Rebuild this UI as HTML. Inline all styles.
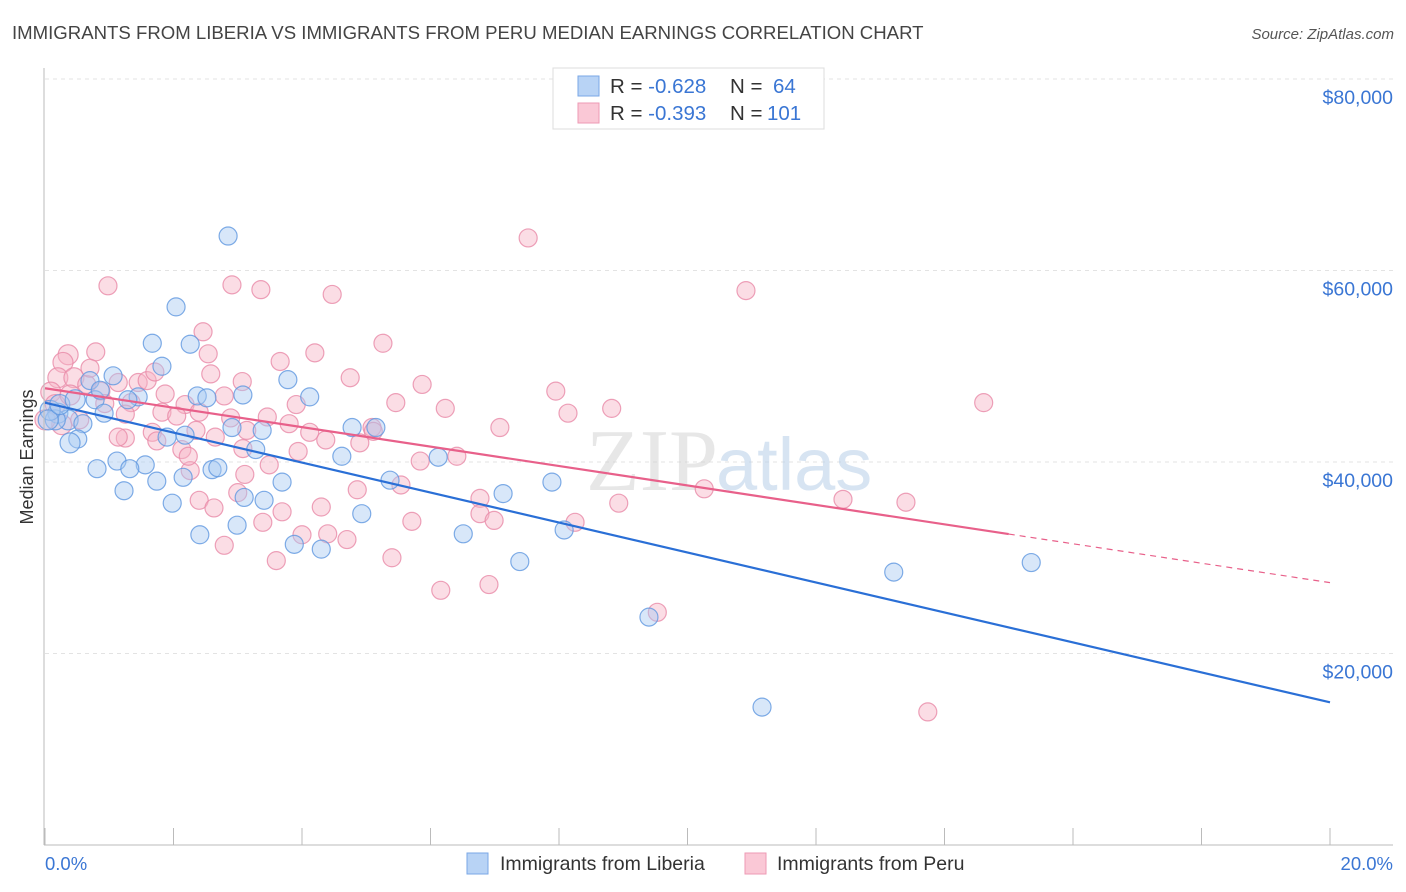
<!DOCTYPE html>
<html><head><meta charset="utf-8"><style>
body{margin:0;background:#fff;font-family:"Liberation Sans",sans-serif;}
svg{display:block}
</style></head><body>
<svg id="chart" width="1406" height="892">
<text x="12" y="39" font-size="18.6" fill="#444">IMMIGRANTS FROM LIBERIA VS IMMIGRANTS FROM PERU MEDIAN EARNINGS CORRELATION CHART</text>
<text x="1394" y="39" font-size="15" fill="#555" font-style="italic" text-anchor="end">Source: ZipAtlas.com</text>
<g id="grid"></g>
<text x="718" y="490" font-size="88" fill="#d4d4d4" text-anchor="end" font-family="Liberation Serif" opacity="0.55">ZIP</text>
<text x="716" y="490" font-size="74" fill="#b8cfe8" opacity="0.55">atlas</text>
<g id="pts"></g>
<g id="lines"></g>
<line x1="44" y1="68" x2="44" y2="845" stroke="#bbb"/>
<line x1="44" y1="845" x2="1393" y2="845" stroke="#bbb"/>
<g id="axes"></g>
<text transform="translate(33,457) rotate(-90)" font-size="18" fill="#333" text-anchor="middle">Median Earnings</text>
<g>
<rect x="553" y="68" width="271" height="61" fill="#fff" stroke="#ddd"/>
<rect x="578" y="76" width="21" height="20" fill="#b8d3f5" stroke="#7aa7e6"/>
<rect x="578" y="103" width="21" height="20" fill="#fac8d6" stroke="#ee9ab4"/>
<text x="610" y="93" font-size="20.5" fill="#333">R = <tspan fill="#3a76d4">-0.628</tspan><tspan x="730">N = </tspan><tspan x="773" fill="#3a76d4">64</tspan></text>
<text x="610" y="120" font-size="20.5" fill="#333">R = <tspan fill="#3a76d4">-0.393</tspan><tspan x="730">N = </tspan><tspan x="767" fill="#3a76d4">101</tspan></text>
</g>
<g>
<rect x="467" y="853" width="21" height="21" fill="#b8d3f5" stroke="#7aa7e6"/>
<text x="500" y="870" font-size="19.5" fill="#333">Immigrants from Liberia</text>
<rect x="745" y="853" width="21" height="21" fill="#fac8d6" stroke="#ee9ab4"/>
<text x="777" y="870" font-size="19.5" fill="#333">Immigrants from Peru</text>
</g>
</svg>
<script>
const yTicks=[20000,40000,60000,80000];
const yTickLabels=["$20,000","$40,000","$60,000","$80,000"];
const xTickLabels=["0.0%","20.0%"];
const liberiaX=[2.85,2.04,1.67,2.26,1.82,1.06,0.70,3.78,3.08,4.12,1.45,2.37,0.78,1.29,2.52,0.20,0.36,0.16,0.92,0.08,0.59,2.91,3.38,4.78,5.15,1.90,2.18,0.51,0.39,3.28,4.62,6.12,1.12,1.56,0.81,2.60,2.69,1.32,1.74,2.15,3.69,5.37,7.89,1.23,3.10,3.41,7.13,1.98,4.93,2.99,2.41,6.51,8.08,3.88,4.30,7.39,15.35,13.21,9.40,11.16,0.05,0.23,0.86,0.47];
const liberiaY=[63.6,56.2,52.4,52.3,50.0,49.0,48.5,48.6,47.0,46.8,46.8,46.9,46.5,46.5,46.7,45.1,44.4,44.4,45.1,45.4,44.0,43.6,43.3,43.6,43.6,42.6,42.8,42.4,42.0,41.3,40.6,40.5,40.1,39.7,39.3,39.2,39.4,39.3,38.0,38.4,37.9,38.1,37.9,37.0,36.3,36.0,36.7,35.7,34.6,33.4,32.4,32.5,32.9,31.4,30.9,29.6,29.5,28.5,23.8,14.4,44.4,46.0,47.5,46.5];
const peruX=[0.98,2.91,3.36,4.47,7.52,10.91,2.46,5.26,0.36,0.79,2.54,4.20,3.66,0.28,0.20,0.45,4.75,0.65,1.14,1.45,1.59,3.07,5.87,7.95,0.09,0.87,1.87,2.79,3.91,5.46,2.18,1.34,6.23,8.82,14.61,1.25,1.82,2.05,2.40,2.89,3.46,3.80,8.14,7.08,0.26,0.54,1.67,2.35,3.14,4.12,5.09,1.25,1.74,2.13,3.08,3.94,4.37,4.90,6.41,5.84,3.49,2.26,3.11,5.54,6.77,4.86,3.00,10.26,12.42,13.40,2.40,2.63,8.93,4.30,6.77,3.39,3.69,5.71,6.99,8.25,4.70,4.00,4.40,2.79,3.60,5.40,6.91,6.16,9.53,13.74,0.16,0.0,0.93,0.70,0.39,1.14,2.58,2.23,2.65,5.11,1.71];
const peruY=[58.4,58.5,58.0,57.5,63.4,57.9,53.6,52.4,51.2,51.5,51.3,51.4,50.5,50.4,48.8,48.8,48.8,48.1,48.3,48.3,48.5,48.4,48.1,47.4,47.3,47.4,47.1,46.9,46.0,46.2,46.0,46.2,45.6,45.6,46.2,45.0,45.2,44.8,45.2,44.6,44.7,44.0,45.1,43.6,43.9,44.4,43.1,43.3,43.3,43.1,43.6,42.5,42.2,41.3,41.4,41.1,42.3,42.0,40.6,40.1,39.7,39.1,38.7,37.6,36.2,37.1,36.8,37.2,36.1,35.8,36.0,35.2,35.7,35.3,34.6,33.7,34.8,33.8,33.9,33.7,31.9,32.4,32.5,31.3,29.7,30.0,27.2,26.6,24.3,13.9,46.0,44.4,46.1,49.8,47.0,42.6,49.2,40.6,42.6,43.2,49.4];
const liberiaTrend=[46.2,14.9];
const peruTrend=[47.7,27.4];
const peruSolidEnd=15.0;

const NS="http://www.w3.org/2000/svg";
const X=v=>45+v/20*1285;
const Y=v=>845-v/20000*191.5;
function mk(tag,attrs,parent){const e=document.createElementNS(NS,tag);for(const k in attrs)e.setAttribute(k,attrs[k]);parent.appendChild(e);return e;}
const grid=document.getElementById('grid'),axes=document.getElementById('axes'),pts=document.getElementById('pts'),lines=document.getElementById('lines');
yTicks.forEach((t,i)=>{
  const l=mk('line',{x1:45,x2:1393,y1:Y(t),y2:Y(t),stroke:'#e3e3e3','stroke-dasharray':'4,4'},grid);
  
  
  const tx=mk('text',{x:1393,y:Y(t)+25,'font-size':19.5,fill:'#3a76d4','text-anchor':'end'},axes);
  tx.textContent=yTickLabels[i];
  
  
});
for(let i=0;i<=10;i++){
  const l=mk('line',{x1:X(i*2),x2:X(i*2),y1:828,y2:845,stroke:'#bbb'},axes);
  
  
}
xTickLabels.forEach((s,i)=>{
  const t=mk('text',{x:i?1393:45,y:870,'font-size':18.5,fill:'#3a76d4','text-anchor':i?'end':'start'},axes);
  t.textContent=s;
  
  
});
function dots(xs,ys,fill,stroke,name){
  xs.forEach((x,i)=>{
    const big=x<0.5;
    const c=mk('circle',{cx:X(x),cy:Y(ys[i]*1000),r:big?10:9,fill:fill,'fill-opacity':0.45,stroke:stroke,'stroke-opacity':0.8,'stroke-width':1.2},pts);
    
    
  });
}
dots(peruX,peruY,'#f7b3c6','#e98aa8','peru-point');
dots(liberiaX,liberiaY,'#a9c9f2','#5f97e0','liberia-point');
const bl=mk('line',{x1:X(0),y1:Y(liberiaTrend[0]*1000),x2:X(20),y2:Y(liberiaTrend[1]*1000),stroke:'#2a6fd6','stroke-width':2.2},lines);


const pm=peruTrend[0]+(peruTrend[1]-peruTrend[0])*peruSolidEnd/20;
const pl=mk('line',{x1:X(0),y1:Y(peruTrend[0]*1000),x2:X(peruSolidEnd),y2:Y(pm*1000),stroke:'#e8608a','stroke-width':2.2},lines);


const pd=mk('line',{x1:X(peruSolidEnd),y1:Y(pm*1000),x2:X(20),y2:Y(peruTrend[1]*1000),stroke:'#e8608a','stroke-width':1.2,'stroke-dasharray':'6,5'},lines);


</script>
</body></html>
